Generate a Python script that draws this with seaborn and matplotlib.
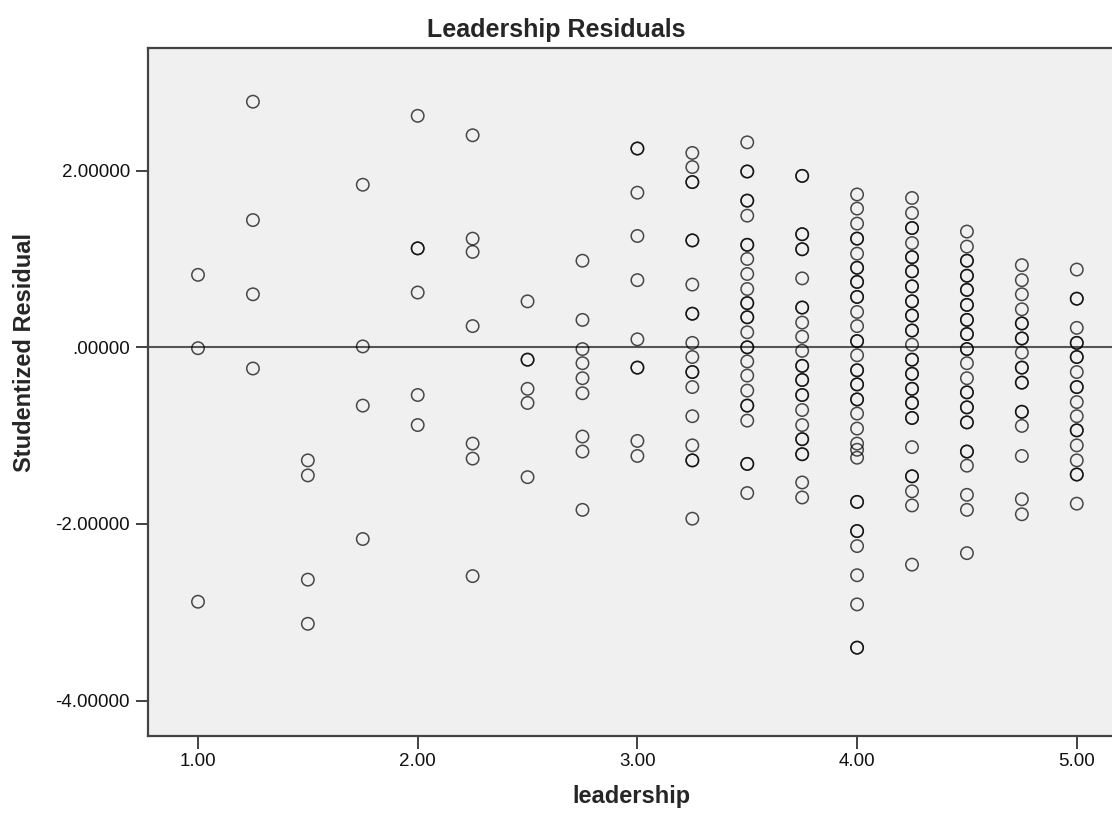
import pandas as pd
import seaborn as sns
import matplotlib.pyplot as plt
import numpy as np

# studentized residuals, one list per leadership score
leadership_levels = [1.00, 1.25, 1.50, 1.75, 2.00, 2.25, 2.50, 2.75, 3.00, 3.25,
                     3.50, 3.75, 4.00, 4.25, 4.50, 4.75, 5.00]

res_100 = [0.82, -0.01, -2.88]
res_125 = [2.78, 1.44, 0.60, -0.24]
res_150 = [-1.28, -1.45, -2.63, -3.13]
res_175 = [1.84, 0.01, -0.66, -2.17]
res_200 = [2.62, 1.12, 1.12, 0.62, -0.54, -0.88]
res_225 = [2.40, 1.23, 1.08, 0.24, -1.09, -1.26, -2.59]
res_250 = [0.52, -0.14, -0.14, -0.47, -0.63, -1.47]
res_275 = [0.98, 0.31, -0.02, -0.18, -0.35, -0.52, -1.01, -1.18, -1.84]
res_300 = [2.25, 2.25, 1.75, 1.26, 0.76, 0.09, -0.23, -0.23, -1.06, -1.23]
res_325 = [2.20, 2.04, 1.87, 1.87, 1.21, 1.21, 0.71, 0.38, 0.38, 0.05, -0.11,
           -0.28, -0.28, -0.45, -0.78, -1.11, -1.28, -1.28, -1.94]
res_350 = [2.32, 1.99, 1.99, 1.66, 1.66, 1.49, 1.16, 1.16, 1.00, 0.83, 0.66,
           0.50, 0.50, 0.34, 0.34, 0.17, 0.00, 0.00, -0.16, -0.32, -0.49,
           -0.66, -0.66, -0.83, -1.32, -1.32, -1.65]
res_375 = [1.94, 1.94, 1.28, 1.28, 1.11, 1.11, 0.78, 0.45, 0.45, 0.28, 0.12,
           -0.04, -0.21, -0.21, -0.37, -0.37, -0.54, -0.54, -0.71, -0.88,
           -1.04, -1.04, -1.21, -1.21, -1.53, -1.70]
res_400 = [1.73, 1.57, 1.40, 1.23, 1.23, 1.06, 0.90, 0.90, 0.74, 0.74, 0.57,
           0.57, 0.40, 0.24, 0.07, 0.07, -0.09, -0.26, -0.26, -0.42, -0.42,
           -0.59, -0.59, -0.75, -0.92, -1.09, -1.16, -1.25, -1.75, -1.75,
           -2.08, -2.08, -2.25, -2.58, -2.91, -3.40, -3.40]
res_425 = [1.69, 1.52, 1.35, 1.35, 1.18, 1.02, 1.02, 0.86, 0.86, 0.69, 0.69,
           0.52, 0.52, 0.36, 0.36, 0.19, 0.19, 0.03, -0.14, -0.14, -0.30,
           -0.30, -0.47, -0.47, -0.63, -0.63, -0.80, -0.80, -1.13, -1.46,
           -1.46, -1.63, -1.79, -2.46]
res_450 = [1.31, 1.14, 0.98, 0.98, 0.81, 0.81, 0.65, 0.65, 0.48, 0.48, 0.31,
           0.31, 0.15, 0.15, -0.02, -0.02, -0.18, -0.35, -0.51, -0.51, -0.68,
           -0.68, -0.85, -0.85, -1.18, -1.18, -1.34, -1.67, -1.84, -2.33]
res_475 = [0.93, 0.76, 0.60, 0.43, 0.27, 0.27, 0.10, 0.10, -0.06, -0.23, -0.23,
           -0.40, -0.40, -0.73, -0.73, -0.89, -1.23, -1.72, -1.89]
res_500 = [0.88, 0.55, 0.55, 0.22, 0.05, 0.05, -0.11, -0.11, -0.28, -0.45,
           -0.45, -0.62, -0.78, -0.94, -0.94, -1.11, -1.28, -1.44, -1.44, -1.77]

x_ticks = [1, 2, 3, 4, 5]
x_tick_labels = ['1.00', '2.00', '3.00', '4.00', '5.00']
y_ticks = [2, 0, -2, -4]
y_tick_labels = ['2.00000', '.00000', '-2.00000', '-4.00000']

columns = [res_100, res_125, res_150, res_175, res_200, res_225, res_250, res_275,
           res_300, res_325, res_350, res_375, res_400, res_425, res_450, res_475,
           res_500]

rows = []
for lev, vals in zip(leadership_levels, columns):
    for v in vals:
        rows.append((lev, v))
df = pd.DataFrame(rows, columns=['leadership', 'resid'])

sns.set_style('white')
plt.rcParams['font.family'] = ['Liberation Sans', 'DejaVu Sans']

fig = plt.figure(figsize=(11.12, 8.14), dpi=100)
ax = fig.add_axes([0.1331, 0.0958, 0.8696, 0.8458])
ax.set_facecolor('#f0f0f0')

ax.axhline(0, color='#555555', lw=1.5, zorder=1)

sns.scatterplot(data=df, x='leadership', y='resid', ax=ax, marker='o',
                s=80, facecolor='none', edgecolor='black', linewidth=1.1,
                alpha=0.7, zorder=3)

ax.set_xlim(0.7724, 5.174)
ax.set_ylim(-4.40, 3.393)
ax.set_xticks(x_ticks)
ax.set_xticklabels(x_tick_labels)
ax.set_yticks(y_ticks)
ax.set_yticklabels(y_tick_labels)
ax.tick_params(axis='both', direction='out', length=9, width=1.3,
               color='#333333', labelsize=13.5, pad=4, labelcolor='#111111',
               bottom=True, left=True)
ax.tick_params(axis='x', pad=3)

for sp in ax.spines.values():
    sp.set_color('#444444')
    sp.set_linewidth(1.6)

ax.set_xlabel('')
ax.set_ylabel('')
fig.text(0.5675, 1 - 797 / 814, 'leadership', fontsize=17, fontweight='bold',
         ha='center', va='center')
fig.text(0.022, 1 - 353 / 814, 'Studentized Residual', rotation=90,
         fontsize=17, fontweight='bold', ha='center', va='center')
fig.text(0.5, 1 - 30 / 814, 'Leadership Residuals', fontsize=18,
         fontweight='bold', ha='center', va='center')

fig.savefig('out.png', dpi=100)
